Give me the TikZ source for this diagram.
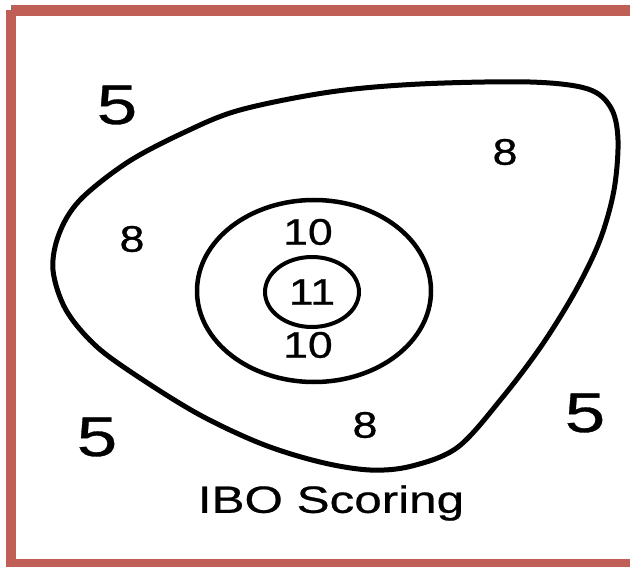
\documentclass[tikz,border=0pt]{standalone}
\usepackage{fontspec}
\setmainfont{Liberation Sans}
\newfontfamily\labfont[FakeStretch=1.3,FakeBold=0.6]{Liberation Sans}
\newfontfamily\digfont[FakeStretch=1.2,FakeBold=0.8]{Liberation Sans}
\definecolor{framecol}{RGB}{191,95,85}
\begin{document}
\begin{tikzpicture}[x=1pt,y=-1pt,
  ring/.style={draw=black,line width=4.5pt},
  small/.style={font=\digfont\fontsize{37}{40}\selectfont,inner sep=0pt},
  big/.style={font=\labfont\fontsize{56}{60}\selectfont,inner sep=0pt},
  caption/.style={font=\labfont\fontsize{38}{42}\selectfont,inner sep=0pt}]
\useasboundingbox (0,0) rectangle (630,567);
\fill[white] (0,0) rectangle (630,567);
% frame
\draw[framecol,line width=10.5pt] (11,10.5) -- (11,564) -- (645,564) (11,10.5) -- (645,10.5);
% outer blob
\draw[ring,line width=5pt] plot[smooth cycle,tension=0.55] coordinates {
 (240,110) (330,92) (420,84) (530,82) (588,89) (611,108) (618,140) (614,190)
 (600,240) (576,290) (542,345) (502,398) (458,447) (412,466) (370,470) (320,462)
 (262,444) (200,415) (140,378) (96,346) (66,310) (53,270) (59,234) (80,200)
 (128,162) (185,132)};
% rings
\draw[ring] (314,291) ellipse [x radius=117, y radius=91];
\draw[ring,line width=4pt] (312,292) ellipse [x radius=47, y radius=35];
% labels
\node[big] (fiveTL) at (117,105) {5};
\node[big] (fiveBL) at (97,437) {5};
\node[big] (fiveBR) at (585,413) {5};
\node[small] (eightL) at (132,239) {8};
\node[small] (eightTR) at (505,152) {8};
\node[small] (eightB) at (365,425) {8};
\node[small] (tenT) at (308,232) {10};
\node[small] (eleven) at (312,292) {11};
\node[small] (tenB) at (308,345) {10};
\node[caption] (cap) at (331,503) {IBO Scoring};
\end{tikzpicture}
\end{document}
